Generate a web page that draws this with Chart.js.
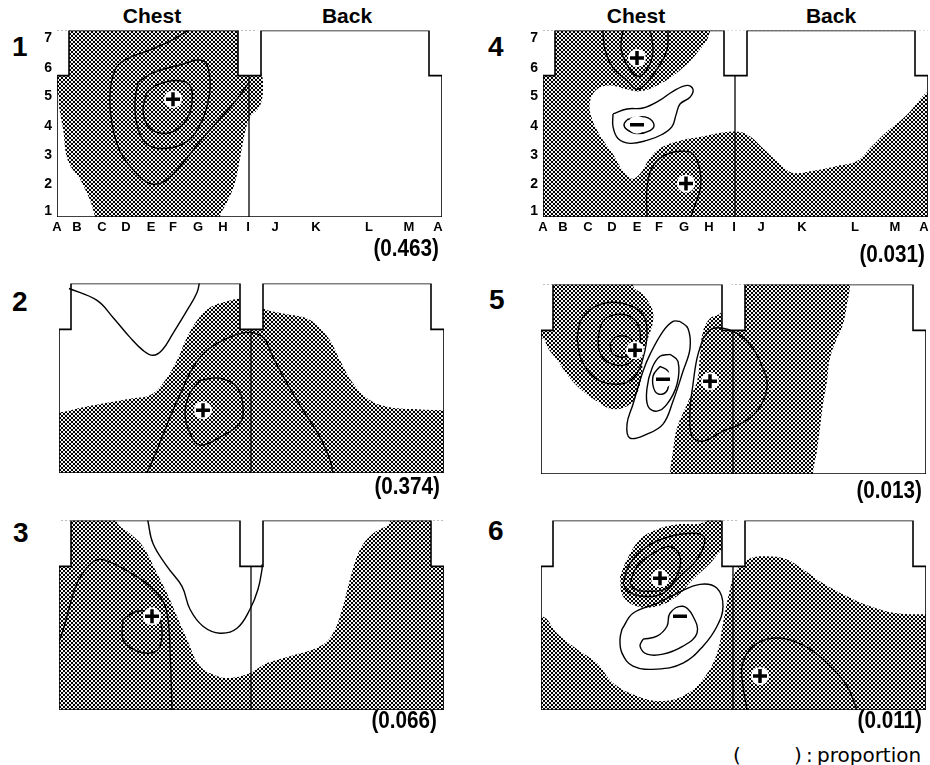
<!DOCTYPE html>
<html lang="en">
<head>
<meta charset="UTF-8">
<title>Body surface maps 1-6</title>
<script src="https://cdn.jsdelivr.net/npm/chart.js"></script>
<style>
  body { margin: 0; background: #fff; }
  #page { position: relative; width: 930px; height: 765px; overflow: hidden; background: #fff;
          font-family: "Liberation Sans", Arial, sans-serif; color: #000; }
  canvas { position: absolute; }
  .num { position: absolute; font-weight: bold; font-size: 28px; line-height: 28px; }
  .side { position: absolute; width: 100px; text-align: center; font-weight: bold; font-size: 21px; line-height: 21px; }
  .prop { position: absolute; width: 120px; text-align: right; font-weight: bold; font-size: 23px; line-height: 23px;
          transform: scaleX(0.9); transform-origin: right center; }
  .leg { position: absolute; font-family: "DejaVu Sans", sans-serif; font-size: 20px; line-height: 20px; }
</style>
</head>
<body>
<div id="page">
  <div class="num" style="left:12px;top:33px">1</div>
  <div class="num" style="left:12px;top:288px">2</div>
  <div class="num" style="left:13px;top:519px">3</div>
  <div class="num" style="left:488px;top:33px">4</div>
  <div class="num" style="left:489px;top:286px">5</div>
  <div class="num" style="left:488px;top:517px">6</div>

  <div class="side" style="left:102px;top:5px">Chest</div>
  <div class="side" style="left:297px;top:5px">Back</div>
  <div class="side" style="left:586px;top:5px">Chest</div>
  <div class="side" style="left:781px;top:5px">Back</div>

  <div class="leg" style="left:733px;top:745px">(</div>
  <div class="leg" style="left:794px;top:745px">)</div>
  <div class="leg" style="left:806px;top:745px">:</div>
  <div class="leg" style="left:817px;top:745px">proportion</div>
</div>

<script>
// electrode grid (map units: x 0..385 left to right, y 0..190 bottom to top)
const colPos = [0, 20, 45, 69, 94, 116, 141, 166, 191, 218, 259, 312, 352, 381];
const colLabels = ['A', 'B', 'C', 'D', 'E', 'F', 'G', 'H', 'I', 'J', 'K', 'L', 'M', 'A'];
const rowPos = [6, 33, 63, 93, 123, 152, 182];
const rowLabels = ['1', '2', '3', '4', '5', '6', '7'];

// torso outline, chest/back divider, area outside the torso, whole map
const bodyOutline = [[0,0],[0,144],[12,144],[12,190],[181,190],[181,144],[204,144],[204,190],[372,190],[372,144],[385,144],[385,0],[0,0]];
const midLine = [[192,0],[192,144]];
const outsideMask = [[-40,144],[12,144],[12,190],[181,190],[181,144],[204,144],[204,190],[372,190],[372,144],[425,144],[425,240],[-40,240]];
const fullArea = [[-40,-40],[425,-40],[425,240],[-40,240]];

const proportions = [0.463, 0.374, 0.066, 0.031, 0.013, 0.011];

// map 1
const p1Shades = [
  [[38,-30],[38,0],[25,35],[11,57],[6,90],[2,112],[0,127],[-20,140],[-40,160],[-40,230],[194,230],[198,160],[205,144],[206,132],[205,120],[201,110],[194,103],[189,90],[184,65],[178,35],[170,15],[163,0],[163,-30]]
];
const p1Clears = [];
const p1Contours = [
  [[137,194],[113,179],[90,169],[68,160],[58,150],[53,125],[55,95],[63,67],[78,46],[93,34],[107,36],[125,54],[143,77],[163,100],[180,120],[192,137]],
  [[81,137],[96,147],[120,154],[146,159],[153,140],[151,117],[143,94],[130,77],[110,70],[90,74],[80,94],[78,117],[81,137]],
  [[90,127],[101,135],[120,139],[133,134],[135,117],[130,100],[116,87],[101,86],[90,94],[86,110],[90,127]]
];
const p1Plus = [[116,120]];
const p1Minus = [];

// map 2
const p2Shades = [
  [[-40,61],[0,61],[24,66],[51,71],[74,75],[91,78],[104,90],[118,113],[128,136],[138,153],[151,166],[171,173],[181,175],[192,174],[204,165],[224,160],[248,155],[261,145],[271,133],[281,113],[294,90],[311,73],[331,66],[358,64],[385,63],[425,63],[425,-40],[-40,-40]]
];
const p2Clears = [];
const p2Contours = [
  [[10,185],[38,173],[54,156],[71,136],[84,123],[94,118],[103,123],[114,140],[128,163],[138,181],[141,194]],
  [[86,-5],[88,0],[98,23],[111,56],[123,83],[134,106],[148,123],[168,135],[188,141],[204,136],[214,116],[228,90],[244,63],[261,36],[271,13],[274,0],[275,-5]],
  [[141,93],[161,95],[178,86],[184,66],[181,50],[161,36],[141,28],[131,40],[126,60],[131,80],[141,93]]
];
const p2Plus = [[144,63]];
const p2Minus = [];

// map 3
const p3Shades = [
  [[58,230],[58,189],[71,177],[84,164],[98,137],[108,117],[118,94],[128,71],[141,44],[158,34],[171,32],[191,37],[208,47],[231,54],[261,64],[274,77],[284,104],[291,131],[301,161],[314,177],[331,189],[331,230],[425,230],[425,-40],[-40,-40],[-40,230]]
];
const p3Clears = [];
const p3Contours = [
  [[88,195],[89,189],[94,167],[108,144],[123,124],[131,101],[144,84],[161,77],[178,82],[191,101],[199,121],[203,141],[203,146]],
  [[-3,66],[1,71],[8,94],[18,127],[31,146],[41,151],[54,147],[74,136],[91,124],[104,109],[109,91],[111,61],[113,0],[113,-5]],
  [[64,91],[78,99],[94,97],[102,87],[101,64],[91,57],[74,61],[64,71],[64,91]]
];
const p3Plus = [[93,94]];
const p3Minus = [];

// map 4
const p4Shades = [fullArea];
const p4Clears = [
  [[167,240],[167,189],[154,167],[134,147],[114,134],[97,128],[84,130],[67,134],[54,130],[47,117],[49,100],[59,80],[70,64],[80,47],[89,39],[97,44],[107,60],[117,70],[134,77],[160,82],[190,87],[204,84],[220,70],[237,54],[250,45],[270,47],[294,52],[314,57],[327,70],[344,87],[364,104],[384,127],[420,150],[420,240]]
];
const p4Contours = [
  [[60,196],[60,189],[62,170],[70,152],[84,139],[94,130],[104,137],[115,152],[124,170],[125,189],[125,196]],
  [[81,195],[78,172],[84,155],[95,143],[105,152],[110,169],[107,192]],
  [[70,105],[84,110],[100,111],[117,119],[130,128],[144,134],[150,130],[147,122],[137,115],[133,104],[129,92],[119,84],[104,78],[87,75],[75,80],[70,92],[70,105]],
  [[84,99],[94,102],[105,101],[111,94],[107,88],[94,85],[84,89],[81,94],[84,99]],
  [[104,-5],[104,0],[104,30],[109,50],[120,62],[137,67],[150,64],[157,47],[157,27],[149,4],[147,-5]]
];
const p4Plus = [[94,162],[143,34]];
const p4Minus = [[94,94]];

// map 5
const p5Shades = [
  [[-40,136],[1,136],[7,126],[17,113],[29,96],[42,83],[56,73],[72,65],[89,70],[97,83],[101,103],[102,120],[107,136],[112,153],[111,166],[102,180],[92,189],[90,230],[-40,230]],
  [[129,-40],[129,0],[132,23],[136,46],[146,70],[156,93],[159,120],[162,143],[169,156],[179,161],[190,175],[195,230],[309,230],[309,189],[306,170],[302,150],[296,136],[289,116],[286,93],[282,70],[279,46],[276,23],[272,0],[272,-40]]
];
const p5Clears = [];
const p5Contours = [
  [[36,136],[41,156],[59,170],[82,171],[101,161],[106,143],[102,116],[92,96],[76,90],[56,95],[41,113],[36,136]],
  [[57,136],[62,153],[76,160],[92,156],[99,143],[97,123],[86,110],[69,111],[59,121],[57,136]],
  [[69,131],[76,138],[89,136],[92,126],[86,118],[72,120],[69,131]],
  [[139,153],[147,146],[149,126],[142,103],[132,73],[122,50],[106,40],[89,36],[86,50],[92,70],[102,103],[109,120],[122,143],[132,153],[139,153]],
  [[129,120],[137,113],[136,90],[126,70],[116,63],[107,68],[106,86],[111,106],[119,118],[129,120]],
  [[119,108],[127,103],[127,86],[121,80],[114,83],[112,98],[119,108]],
  [[162,136],[172,146],[192,143],[209,130],[222,106],[226,86],[216,63],[199,50],[182,43],[162,33],[151,38],[149,63],[152,90],[156,116],[162,136]]
];
const p5Plus = [[94,124],[169,93]];
const p5Minus = [[122,95]];

// map 6
const p6Shades = [
  [[79,134],[86,151],[99,171],[116,181],[136,186],[159,187],[175,194],[195,194],[190,162],[182,161],[169,147],[152,131],[136,114],[116,104],[96,104],[82,114],[79,134]],
  [[-40,94],[1,94],[16,77],[36,61],[56,47],[72,27],[96,14],[119,9],[142,14],[162,31],[176,57],[182,87],[189,121],[196,141],[209,152],[229,154],[246,151],[262,141],[282,127],[306,114],[329,104],[356,97],[385,96],[425,96],[425,-40],[-40,-40]]
];
const p6Clears = [];
const p6Contours = [
  [[82,127],[89,147],[106,164],[129,174],[156,177],[164,171],[156,151],[139,134],[122,117],[102,114],[87,119],[82,127]],
  [[89,127],[96,144],[112,157],[129,164],[139,154],[137,137],[126,122],[106,119],[94,121],[89,127]],
  [[81,81],[92,97],[116,107],[136,117],[159,126],[176,122],[182,104],[176,84],[162,64],[142,47],[116,41],[92,44],[81,57],[79,71],[81,81]],
  [[102,71],[116,74],[126,84],[129,97],[142,104],[152,94],[156,77],[142,64],[122,56],[106,56],[99,64],[102,71]],
  [[206,-5],[206,0],[202,24],[201,44],[209,61],[226,71],[246,71],[269,61],[289,44],[306,24],[316,0],[317,-5]]
];
const p6Plus = [[119,132],[219,34]];
const p6Minus = [[139,94]];

const maps = [
  {shades: p1Shades, clears: p1Clears, contours: p1Contours, plus: p1Plus, minus: p1Minus},
  {shades: p2Shades, clears: p2Clears, contours: p2Contours, plus: p2Plus, minus: p2Minus},
  {shades: p3Shades, clears: p3Clears, contours: p3Contours, plus: p3Plus, minus: p3Minus},
  {shades: p4Shades, clears: p4Clears, contours: p4Contours, plus: p4Plus, minus: p4Minus},
  {shades: p5Shades, clears: p5Clears, contours: p5Contours, plus: p5Plus, minus: p5Minus},
  {shades: p6Shades, clears: p6Clears, contours: p6Contours, plus: p6Plus, minus: p6Minus}
];

// where each map sits on the page (left/top of the torso box) and where its proportion label ends
const layout = [
  {left: 57,  top: 27,  ticks: true,  propRight: 439, propTop: 237},
  {left: 59,  top: 283, ticks: false, propRight: 440, propTop: 475},
  {left: 59,  top: 520, ticks: false, propRight: 437, propTop: 709},
  {left: 543, top: 27,  ticks: true,  propRight: 925, propTop: 243},
  {left: 541, top: 284, ticks: false, propRight: 922, propTop: 479},
  {left: 541, top: 520, ticks: false, propRight: 922, propTop: 709}
];

const AXIS_W = 40, AXIS_H = 30, PAD_TOP = 10, PAD_RIGHT = 12;
const tickFont = "'Liberation Sans', Arial, sans-serif";

const xy = pts => pts.map(([x, y]) => ({x, y}));

function makeHatch(ctx) {
  const tile = document.createElement('canvas');
  tile.width = 4; tile.height = 4;
  const g = tile.getContext('2d');
  g.fillStyle = '#f2f2f2'; g.fillRect(0, 0, 4, 4);
  g.fillStyle = '#000'; g.fillRect(0, 0, 2, 2); g.fillRect(2, 2, 2, 2);
  return ctx.createPattern(tile, 'repeat');
}

function axis(positions, labels, show, min, max, horizontal) {
  return {
    type: 'linear', min, max, position: horizontal ? 'bottom' : 'left',
    grid: { display: false, drawTicks: false },
    border: { display: false },
    ticks: {
      display: show, autoSkip: false, maxRotation: 0, color: '#000',
      padding: horizontal ? 3 : 5,
      font: { family: tickFont, size: horizontal ? 13 : 14, weight: 'bold' },
      callback: (v, i) => labels[i]
    },
    afterBuildTicks: s => { s.ticks = positions.map(value => ({ value })); },
    afterFit: s => { if (horizontal) s.height = AXIS_H; else s.width = AXIS_W; }
  };
}

function polygon(pts, color, order, tension) {
  return { data: xy(pts), showLine: true, fill: 'shape', backgroundColor: color,
           borderWidth: 0, pointRadius: 0, tension, order };
}

function curve(pts, width, tension, order) {
  return { data: xy(pts), showLine: true, fill: false, borderColor: '#000',
           borderWidth: width, pointRadius: 0, tension, order };
}

function signs(pts, style, order) {
  return [
    { data: xy(pts), showLine: false, pointStyle: 'circle', pointRadius: 9,
      pointBackgroundColor: '#fff', pointBorderWidth: 0, order: order + 1 },
    { data: xy(pts), showLine: false, pointStyle: style, pointRadius: 7,
      pointBorderColor: '#000', pointBorderWidth: 3.5, order }
  ];
}

const page = document.getElementById('page');

maps.forEach((m, i) => {
  const box = layout[i];
  const canvas = document.createElement('canvas');
  canvas.width = AXIS_W + 385 + PAD_RIGHT;
  canvas.height = PAD_TOP + 190 + AXIS_H;
  canvas.style.left = (box.left - AXIS_W) + 'px';
  canvas.style.top = (box.top - PAD_TOP) + 'px';
  page.appendChild(canvas);
  const ctx = canvas.getContext('2d');
  const hatch = makeHatch(ctx);

  const datasets = [];
  m.shades.forEach(p => datasets.push(polygon(p, hatch, 60, p === fullArea ? 0 : 0.4)));
  m.clears.forEach(p => datasets.push(polygon(p, '#fff', 55, 0.4)));
  datasets.push(polygon(outsideMask, '#fff', 50, 0));
  m.contours.forEach(c => datasets.push(curve(c, 1.4, 0.4, 40)));
  datasets.push(curve(bodyOutline, 1.6, 0, 30));
  datasets.push(curve(midLine, 1.3, 0, 30));
  if (m.plus.length) datasets.push(...signs(m.plus, 'cross', 10));
  if (m.minus.length) datasets.push(...signs(m.minus, 'line', 10));

  new Chart(ctx, {
    type: 'scatter',
    data: { datasets },
    options: {
      responsive: false, animation: false, events: [],
      layout: { padding: { left: 0, top: PAD_TOP, right: PAD_RIGHT, bottom: 0 } },
      plugins: { legend: { display: false }, tooltip: { enabled: false }, colors: { enabled: false } },
      scales: {
        x: axis(colPos, colLabels, box.ticks, 0, 385, true),
        y: axis(rowPos, rowLabels, box.ticks, 0, 190, false)
      }
    }
  });

  const lbl = document.createElement('div');
  lbl.className = 'prop';
  lbl.style.left = (box.propRight - 120) + 'px';
  lbl.style.top = box.propTop + 'px';
  lbl.textContent = '(' + proportions[i].toFixed(3) + ')';
  page.appendChild(lbl);
});
</script>
</body>
</html>
